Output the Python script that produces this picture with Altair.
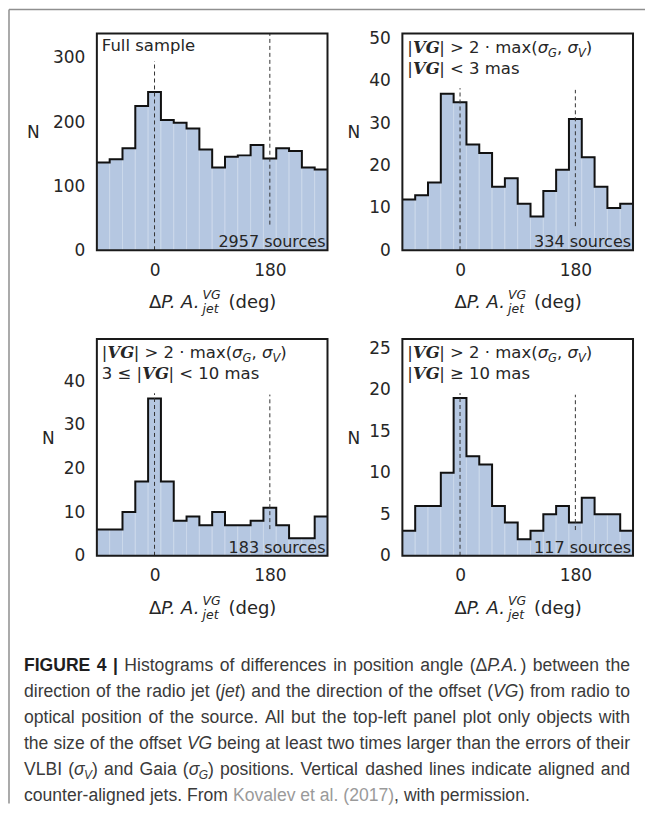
import altair as alt
import pandas as pd

# ---------------- data ----------------
BIN_LEFT = [-90, -70, -50, -30, -10, 10, 30, 50, 70, 90, 110, 130, 150, 170, 190, 210, 230, 250]
BIN_RIGHT = [-70, -50, -30, -10, 10, 30, 50, 70, 90, 110, 130, 150, 170, 190, 210, 230, 250, 270]
X_DOMAIN = [-90, 270]
X_TICKS = [0, 180]

COUNTS_FULL = [137, 142, 159, 225, 247, 203, 199, 190, 157, 129, 146, 148, 164, 143, 159, 155, 129, 126]
COUNTS_SMALL = [12, 13, 16, 37, 35, 25, 23, 15, 17, 11, 8, 14, 19, 31, 22, 15, 10, 11]
COUNTS_MID = [6, 6, 10, 17, 36, 17, 8, 9, 7, 10, 7, 7, 8, 11, 7, 4, 4, 9]
COUNTS_LARGE = [3, 6, 6, 10, 19, 12, 11, 6, 4, 2, 3, 5, 6, 4, 7, 5, 5, 3]

Y_MAX = [338, 51.2, 49.6, 26.1]
Y_TICKS = [[0, 100, 200, 300], [0, 10, 20, 30, 40, 50], [0, 10, 20, 30, 40], [0, 5, 10, 15, 20, 25]]
ALIGNED_SPAN = [[0, 295], [0, 38.3], [0, 37.2], [0, 19.6]]
COUNTER_SPAN = [[40, 338], [5.7, 37.9], [6.1, 36.9], [3.1, 19.4]]
SOURCE_LABELS = ["2957 sources", "334 sources", "183 sources", "117 sources"]

COND_LINE = [("|", "n"), ("VG", "b"), ("| > 2 · max(", "n"), ("σ", "i"), ("G", "s"),
             (", ", "n"), ("σ", "i"), ("V", "s"), (")", "n")]
PANEL_NOTES = [
    [[("Full sample", "n")]],
    [COND_LINE, [("|", "n"), ("VG", "b"), ("| < 3 mas", "n")]],
    [COND_LINE, [("3 ≤ |", "n"), ("VG", "b"), ("| < 10 mas", "n")]],
    [COND_LINE, [("|", "n"), ("VG", "b"), ("| ≥ 10 mas", "n")]],
]

CAPTION = [
    [("FIGURE 4 |", "B"), (" Histograms of differences in position angle (Δ", "n"), ("P.A.", "I"), (") between the", "n")],
    [("direction of the radio jet (", "n"), ("jet", "I"), (") and the direction of the offset (", "n"), ("VG", "I"), (") from radio to", "n")],
    [("optical position of the source. All but the top-left panel plot only objects with", "n")],
    [("the size of the offset ", "n"), ("VG", "I"), (" being at least two times larger than the errors of their", "n")],
    [("VLBI (", "n"), ("σ", "I"), ("V", "S"), (") and Gaia (", "n"), ("σ", "I"), ("G", "S"), (") positions. Vertical dashed lines indicate aligned and", "n")],
    [("counter-aligned jets. From ", "n"), ("Kovalev et al. (2017)", "g"), (", with permission.", "n")],
]
CAPTION_JUSTIFY = [True, True, True, True, True, False]

# ---------------- layout constants ----------------
W, H = 231, 217
COL_GAP, ROW_GAP = 75, 89
TEXT = "#262626"
FONT = "DejaVu Sans"
BAR_FILL = "#b5c7e1"
BAR_SEP = "#cbd8ea"

DV = {' ': 0.318, '|': 0.337, '>': 0.838, '<': 0.838, '≤': 0.838, '≥': 0.838, '·': 0.318,
      '(': 0.390, ')': 0.390, ',': 0.318, '.': 0.318, 'm': 0.974, 'a': 0.613, 'x': 0.592,
      's': 0.521, 'σ': 0.634, 'Δ': 0.684, 'P': 0.603, 'A': 0.684, 'V': 0.684, 'G': 0.775,
      'd': 0.635, 'e': 0.615, 'g': 0.635, 'j': 0.278, 't': 0.392, 'F': 0.575, 'u': 0.634,
      'l': 0.278, 'p': 0.635}
DV_BI = {'V': 0.78, 'G': 0.82}
AR = {' ': .278, '.': .278, ',': .278, '(': .333, ')': .333, '-': .333, '|': .26, 'Δ': .668, 'σ': .57,
      'a': .556, 'b': .556, 'c': .5, 'd': .556, 'e': .556, 'f': .278, 'g': .556, 'h': .556, 'i': .222,
      'j': .222, 'k': .5, 'l': .222, 'm': .833, 'n': .556, 'o': .556, 'p': .556, 'q': .556, 'r': .333,
      's': .5, 't': .278, 'u': .556, 'v': .5, 'w': .722, 'x': .5, 'y': .5, 'z': .5,
      'A': .667, 'B': .667, 'C': .722, 'D': .722, 'E': .667, 'F': .611, 'G': .778, 'H': .722, 'I': .278,
      'K': .667, 'L': .556, 'M': .833, 'N': .722, 'O': .778, 'P': .667, 'R': .722, 'S': .667, 'T': .611,
      'U': .722, 'V': .667, 'W': .944}
AR_B = dict(AR, **{'|': .28, 'G': .778, 'R': .722, 'U': .722})


def width(s, table, size):
    tot = 0.0
    for c in s:
        if c.isdigit():
            tot += 0.636 if table is DV else 0.556
        else:
            tot += table.get(c, 0.55)
    return tot * size


def txt(px, py, s, size=16, font=FONT, style="normal", weight="normal", color=TEXT, align="left"):
    return alt.Chart(alt.Data(values=[{"t": s}])).mark_text(
        font=font, fontSize=size, fontStyle=style, fontWeight=weight, color=color,
        align=align, baseline="alphabetic"
    ).encode(x=alt.value(px), y=alt.value(py), text="t:N")


PANEL_STYLES = {
    "n": dict(size=16.5, font=FONT, style="normal", weight="normal", dy=0, table=DV),
    "i": dict(size=16.5, font=FONT, style="italic", weight="normal", dy=0, table=DV),
    "b": dict(size=16.5, font="DejaVu Serif", style="italic", weight="bold", dy=0, table=DV_BI),
    "s": dict(size=11.5, font=FONT, style="italic", weight="normal", dy=4, table=DV),
}
CAP = 17.6
CAP_COLOR = "#3a3a3a"
CAP_STYLES = {
    "n": dict(size=CAP, font="Liberation Sans", style="normal", weight="normal", color=CAP_COLOR, dy=0, table=AR),
    "I": dict(size=CAP, font="Liberation Sans", style="italic", weight="normal", color=CAP_COLOR, dy=0, table=AR),
    "B": dict(size=CAP, font="Liberation Sans", style="normal", weight="bold", color="#1e1e1e", dy=0, table=AR_B),
    "g": dict(size=CAP, font="Liberation Sans", style="normal", weight="normal", color="#9a9a9a", dy=0, table=AR),
    "S": dict(size=12, font="Liberation Sans", style="italic", weight="normal", color=CAP_COLOR, dy=4, table=AR),
}


def pieces_line(pieces, x0, y0, styles, default_color=TEXT):
    out = []
    x = x0
    for s, key in pieces:
        st = styles[key]
        lead = len(s) - len(s.lstrip(" "))
        px = x + width(" " * lead, st["table"], st["size"])
        body = s.strip(" ")
        if body:
            out.append(txt(px, y0 + st["dy"], body, size=st["size"], font=st["font"],
                           style=st["style"], weight=st["weight"], color=st.get("color", default_color)))
        x += width(s, st["table"], st["size"])
    return out


def justified_line(pieces, x0, y0, styles, target):
    # split into word fragments and spaces
    items = []
    for s, key in pieces:
        parts = s.split(" ")
        for j, part in enumerate(parts):
            if j > 0:
                items.append((" ", key))
            if part:
                items.append((part, key))
    natural = sum(width(t, styles[k]["table"], styles[k]["size"]) for t, k in items)
    n_sp = sum(1 for t, _ in items if t == " ")
    extra = (target - natural) / n_sp if n_sp else 0
    out = []
    x = x0
    for t, k in items:
        st = styles[k]
        w = width(t, st["table"], st["size"])
        if t == " ":
            x += w + extra
            continue
        out.append(txt(x, y0 + st["dy"], t, size=st["size"], font=st["font"], style=st["style"],
                       weight=st["weight"], color=st["color"]))
        x += w
    return out


def x_title():
    main = 18
    scr = 12.5
    base = H + 58
    w_delta = width("Δ", DV, main)
    w_pa = width("P. A.", DV, main)
    w_scr = max(width("VG", DV, scr), width("jet", DV, scr)) + 2
    w_deg = width(" (deg)", DV, main)
    total = w_delta + w_pa + w_scr + w_deg
    x = W / 2 - total / 2
    out = [txt(x, base, "Δ", size=main)]
    x += w_delta
    out.append(txt(x, base, "P. A.", size=main, style="italic"))
    x += w_pa + 1
    out.append(txt(x, base - 9, "VG", size=scr, style="italic"))
    out.append(txt(x, base + 5, "jet", size=scr, style="italic"))
    x += w_scr
    out.append(txt(x + width(" ", DV, main), base, "(deg)", size=main))
    return out


def panel(i, counts, title_x, frame=False):
    df = pd.DataFrame({"left": BIN_LEFT, "right": BIN_RIGHT, "n": counts})
    xs = alt.Scale(domain=X_DOMAIN, nice=False, zero=False)
    ys = alt.Scale(domain=[0, Y_MAX[i]], nice=False, zero=True)
    xaxis = alt.Axis(values=X_TICKS, title=None, grid=False, ticks=False, tickSize=0, domain=False,
                     labelFont=FONT, labelFontSize=17, labelColor=TEXT, labelPadding=12, labelFlush=False)
    yaxis = alt.Axis(values=Y_TICKS[i], title="N", titleAngle=0, titleX=title_x, titleY=H / 2 - 9,
                     titleAlign="center", titleBaseline="middle", titleFont=FONT, titleFontSize=17,
                     titleFontWeight="normal", titleColor=TEXT, grid=False, ticks=False, tickSize=0,
                     domain=False, labelFont=FONT, labelFontSize=17, labelColor=TEXT, labelPadding=12,
                     labelFlush=False)
    bars = alt.Chart(df).mark_rect(fill=BAR_FILL, stroke=BAR_SEP, strokeWidth=1).encode(
        x=alt.X("left:Q", scale=xs, axis=xaxis), x2="right:Q",
        y=alt.Y("n:Q", scale=ys, axis=yaxis), y2=alt.datum(0))
    step_df = pd.DataFrame({"left": BIN_LEFT + [X_DOMAIN[1]], "n": counts + [counts[-1]]})
    step = alt.Chart(step_df).mark_line(interpolate="step-after", color="#111111", strokeWidth=2,
                                        strokeJoin="miter").encode(
        x=alt.X("left:Q", scale=xs, axis=xaxis), y=alt.Y("n:Q", scale=ys, axis=yaxis))
    rules_df = pd.DataFrame({"left": X_TICKS, "n": [ALIGNED_SPAN[i][0], COUNTER_SPAN[i][0]],
                             "n2": [ALIGNED_SPAN[i][1], COUNTER_SPAN[i][1]]})
    rules = alt.Chart(rules_df).mark_rule(color="#333333", strokeDash=[4, 3], strokeWidth=1).encode(
        x=alt.X("left:Q", scale=xs, axis=xaxis), y=alt.Y("n:Q", scale=ys, axis=yaxis), y2="n2:Q")
    box = alt.Chart(alt.Data(values=[{"a": 1}])).mark_rect(filled=False, stroke="#1a1a1a", strokeWidth=2).encode(
        x=alt.value(0), x2=alt.value(W), y=alt.value(0), y2=alt.value(H))
    layers = [bars, step, rules, box]
    notes = PANEL_NOTES[i]
    if len(notes) == 1:
        layers += pieces_line(notes[0], 5, 17, PANEL_STYLES)
    else:
        layers += pieces_line(notes[0], 5, 19, PANEL_STYLES)
        layers += pieces_line(notes[1], 5, 40, PANEL_STYLES)
    layers.append(txt(W - 2, H - 3, SOURCE_LABELS[i], align="right"))
    layers += x_title()
    if frame:
        one = alt.Data(values=[{"a": 1}])
        layers.append(alt.Chart(one).mark_rule(color="#8f8f8f", strokeWidth=1.5).encode(
            x=alt.value(-88), y=alt.value(-24), y2=alt.value(771)))
        layers.append(alt.Chart(one).mark_rule(color="#8f8f8f", strokeWidth=1.5).encode(
            x=alt.value(-88), x2=alt.value(549), y=alt.value(-24)))
    return alt.layer(*layers).properties(width=W, height=H)


p1 = panel(0, COUNTS_FULL, -64, frame=True)
p2 = panel(1, COUNTS_SMALL, -49)
p3 = panel(2, COUNTS_MID, -49)
p4 = panel(3, COUNTS_LARGE, -49)

# caption
cap_top = 32 + H + ROW_GAP + H + ROW_GAP
cap_layers = []
for k, line in enumerate(CAPTION):
    base = 670 + 26.2 * k - cap_top
    if CAPTION_JUSTIFY[k]:
        cap_layers += justified_line(line, -73, base, CAP_STYLES, 607)
    else:
        cap_layers += pieces_line(line, -73, base, CAP_STYLES)
caption = alt.layer(*cap_layers).properties(width=W, height=120)

chart = alt.concat(p1, p2, p3, p4, caption, columns=2,
                   spacing={"row": ROW_GAP, "column": COL_GAP}, bounds="flush").properties(
    padding=0, background="white"
).configure_view(strokeWidth=0)

chart.save("out.html", embed_options={"renderer": "svg", "actions": False})
